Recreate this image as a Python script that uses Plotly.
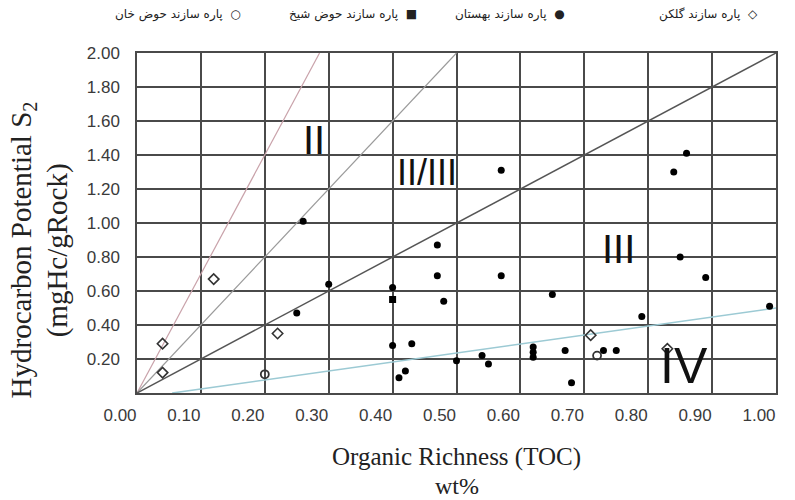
import plotly.graph_objects as go

# ---- data ----
golkan_toc = [0.04, 0.04, 0.12, 0.22, 0.71, 0.83]
golkan_s2 = [0.29, 0.12, 0.67, 0.35, 0.34, 0.26]

behestan_toc = [0.26, 0.57, 0.86, 0.84, 0.25, 0.30, 0.40, 0.40, 0.43, 0.47, 0.47, 0.48,
                0.42, 0.41, 0.50, 0.57, 0.65, 0.85, 0.89, 0.99, 0.79, 0.54, 0.55, 0.62,
                0.62, 0.62, 0.67, 0.68, 0.73, 0.75]
behestan_s2 = [1.01, 1.31, 1.41, 1.30, 0.47, 0.64, 0.62, 0.28, 0.29, 0.87, 0.69, 0.54,
               0.13, 0.09, 0.19, 0.69, 0.58, 0.80, 0.68, 0.51, 0.45, 0.22, 0.17, 0.27,
               0.24, 0.21, 0.25, 0.06, 0.25, 0.25]

hozsheikh_toc = [0.40]
hozsheikh_s2 = [0.55]

hozkhan_toc = [0.20, 0.72]
hozkhan_s2 = [0.11, 0.22]

# kerogen boundary lines (TOC, S2 endpoints)
line_ii_toc = [0.0, 0.2857]
line_ii_s2 = [0.0, 2.0]
line_iiiii_toc = [0.0, 0.5]
line_iiiii_s2 = [0.0, 2.0]
line_iii_toc = [0.0, 1.0]
line_iii_s2 = [0.0, 2.0]
line_iv_toc = [0.055, 1.0]
line_iv_s2 = [0.0, 0.50]

x_ticks = [0.0, 0.1, 0.2, 0.3, 0.4, 0.5, 0.6, 0.7, 0.8, 0.9, 1.0]
x_ticklabels = ["0.00", "0.10", "0.20", "0.30", "0.40", "0.50", "0.60", "0.70", "0.80", "0.90", "1.00"]
y_ticks = [0.2, 0.4, 0.6, 0.8, 1.0, 1.2, 1.4, 1.6, 1.8, 2.0]
y_ticklabels = ["0.20", "0.40", "0.60", "0.80", "1.00", "1.20", "1.40", "1.60", "1.80", "2.00"]

legend_names = ["پاره سازند گلکن", "پاره سازند بهستان", "پاره سازند حوض شیخ", "پاره سازند حوض خان"]
legend_symbols = ["◇", "●", "■", "○"]

region_labels = ["II", "II/III", "III", "IV"]
region_x = [0.277, 0.454, 0.754, 0.856]
region_y = [1.49, 1.30, 0.85, 0.16]
region_size = [40, 36, 40, 50]

fig = go.Figure()

def add_line(x, y, color, width):
    fig.add_trace(go.Scatter(x=x, y=y, mode="lines", line=dict(color=color, width=width),
                             hoverinfo="skip", showlegend=False))

add_line(line_ii_toc, line_ii_s2, "#c9a2aa", 1.2)
add_line(line_iiiii_toc, line_iiiii_s2, "#9a9a9a", 1.2)
add_line(line_iii_toc, line_iii_s2, "#555555", 1.5)
add_line(line_iv_toc, line_iv_s2, "#9ccad4", 1.6)

fig.add_trace(go.Scatter(x=golkan_toc, y=golkan_s2, mode="markers", name=legend_names[0],
                         marker=dict(symbol="diamond-open", size=8, color="#333333",
                                     line=dict(width=1.6, color="#333333")), showlegend=False))
fig.add_trace(go.Scatter(x=behestan_toc, y=behestan_s2, mode="markers", name=legend_names[1],
                         marker=dict(symbol="circle", size=7, color="#000000"), showlegend=False))
fig.add_trace(go.Scatter(x=hozsheikh_toc, y=hozsheikh_s2, mode="markers", name=legend_names[2],
                         marker=dict(symbol="square", size=7, color="#000000"), showlegend=False))
fig.add_trace(go.Scatter(x=hozkhan_toc, y=hozkhan_s2, mode="markers", name=legend_names[3],
                         marker=dict(symbol="circle-open", size=8, color="#333333",
                                     line=dict(width=1.8, color="#333333")), showlegend=False))

annotations = []
for t, x, y, s in zip(region_labels, region_x, region_y, region_size):
    annotations.append(dict(x=x, y=y, xref="x", yref="y", text=t, showarrow=False,
                            xanchor="center", yanchor="middle",
                            font=dict(family="Liberation Sans Narrow, Liberation Sans, sans-serif",
                                      size=s, color="#111111")))

# legend row (RTL style: symbol to the right of the text)
leg_x = [0.975, 0.673, 0.441, 0.166]
for name, sym, lx in zip(legend_names, legend_symbols, leg_x):
    annotations.append(dict(x=lx, y=1.114, xref="paper", yref="paper",
                            text=name + "  " + sym, showarrow=False,
                            xanchor="right", yanchor="middle",
                            font=dict(family="DejaVu Sans", size=12, color="#222222")))

# axis titles
serif = "Liberation Serif, Times New Roman, serif"
annotations.append(dict(x=0.50, y=-0.188, xref="paper", yref="paper", text="Organic Richness (TOC)",
                        showarrow=False, xanchor="center", yanchor="middle",
                        font=dict(family=serif, size=25, color="#222222")))
annotations.append(dict(x=0.50, y=-0.2735, xref="paper", yref="paper", text="wt%",
                        showarrow=False, xanchor="center", yanchor="middle",
                        font=dict(family=serif, size=24, color="#222222")))
annotations.append(dict(x=-0.178, y=0.42, xref="paper", yref="paper", text="Hydrocarbon Potential S<sub>2</sub>",
                        showarrow=False, textangle=-90, xanchor="center", yanchor="middle",
                        font=dict(family=serif, size=29, color="#222222")))
annotations.append(dict(x=-0.125, y=0.42, xref="paper", yref="paper", text="(mgHc/gRock)",
                        showarrow=False, textangle=-90, xanchor="center", yanchor="middle",
                        font=dict(family=serif, size=29, color="#222222")))

axis_common = dict(showgrid=True, gridcolor="#4a4a4a", gridwidth=1.5, zeroline=False,
                   showline=True, linecolor="#4a4a4a", linewidth=1.5, mirror=True,
                   tickfont=dict(family="Liberation Sans, Arial, sans-serif", size=17, color="#3a3a3a"))

fig.update_layout(
    width=795, height=500,
    margin=dict(l=137, r=19, t=53, b=107),
    paper_bgcolor="white", plot_bgcolor="white",
    xaxis=dict(range=[0, 1.0], tickvals=x_ticks, ticktext=x_ticklabels,
               ticklabelshift=-17, ticklabelstandoff=6, **axis_common),
    yaxis=dict(range=[0, 2.0], tickvals=y_ticks, ticktext=y_ticklabels,
               ticklabelstandoff=12, **axis_common),
    annotations=annotations,
    showlegend=False,
)

fig.write_html("out.html")
